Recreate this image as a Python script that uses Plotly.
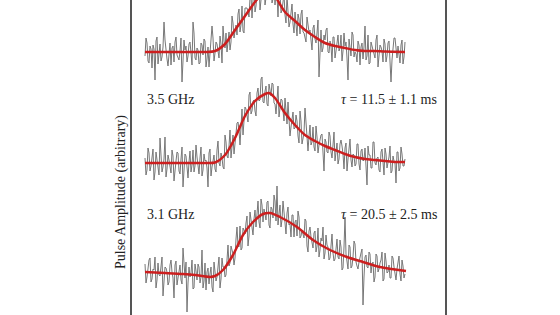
import plotly.graph_objects as go

# ---- data (amplitudes in arbitrary units, relative to each trace's baseline) ----
labels_freq = ["3.5 GHz", "3.1 GHz"]
labels_tau = ["<i>τ</i> = 11.5 ± 1.1 ms", "<i>τ</i> = 20.5 ± 2.5 ms"]

# samples at even time steps
top_even = [-4, 9, -11, 3, 7, -28, 15, -2, -9, 5, 12, -7, 1, -13, 6, 10, -3, -8, 14, -5,
            2, -10, 8, -1, 30, -6, 4, -12, 9, -3, 11, -7, -15, 5, 14, -1, 8, -6, 8, 26,
            4, 0, 20, 10, 29, 24, 17, 43, 27, 21, 44, 44, 35, 57, 46, 40, 58, 71, 52, 62,
            47, 71, 60, 72, 53, 47, 57, 63, 39, 50, 37, 56, 25, 37, 28, 40, 16, 33, 38, 20,
            15, 35, 20, 8, 24, 13, 19, -25, 22, 4, 12, 24, -1, 6, 15, -6, 12, 1, 17, 1,
            6, -6, 13, -4, 17, 0, -10, 7, 5, -7, 26, -4, -12, 10, 2, -6, 17, -3, 5, -10,
            8, -4, 11, -30, 3, 14, -6, -2, 7, -12, 10]
# samples at odd time steps
top_odd = [14, -9, 6, -16, 3, 11, -12, 8, -5, 30, -2, -14, 9, 4, -10, 15, -7, 1, -30, 12,
           6, -4, 10, -13, 19, -8, 2, -11, 7, 13, -15, 5, -3, 26, -9, 10, -3, 16, -11, 11,
           19, 10, 2, 36, 14, 27, 38, 20, 46, 19, 44, 40, 54, 34, 69, 46, 62, 42, 60, 73,
           54, 77, 58, 49, 67, 60, 35, 61, 42, 58, 29, 44, 30, 48, 19, 31, 38, 18, 42, 19,
           10, 28, 22, 2, 27, 9, 32, 10, 0, 17, 22, 0, 11, -10, 15, 1, 17, 4, -9, 19,
           10, -28, 5, 20, -5, -2, 11, -13, 9, 5, -8, 17, -11, 6, -5, 12, -15, 7, 1, 13,
           -10, 9, -4, -8, 14, -2, 6, -11, 12, -5]
top_fit_t = [0, 20, 40, 60, 70, 80, 90, 100, 110, 120, 125, 130, 140, 150, 160, 170, 180,
             190, 200, 210, 220, 230, 240, 260]
top_fit = [0, 0, 0, 0, 1, 8, 22, 36, 50, 61, 62, 56, 40, 31, 22, 15, 9, 6, 4, 2, 1, 1, 0.5, 0]

mid_even = [5, -7, 10, -3, 14, -9, 2, -12, 8, -4, 26, -6, 3, -10, 7, -2, 11, -8, 4, -24,
            9, -5, 1, -9, 13, -3, 6, -11, 16, -7, 2, -5, 10, -13, 4, -6, 13, 0, 10, -4,
            28, 7, 17, 5, 28, 19, 40, 33, 44, 28, 56, 47, 68, 49, 62, 52, 70, 62, 84, 61,
            72, 59, 79, 67, 79, 59, 66, 46, 64, 48, 65, 39, 46, 36, 51, 35, 42, 20, 42, 26,
            55, 19, 27, 18, 36, 12, 26, 18, 28, 6, 24, 11, 31, 11, 18, 2, 20, 4, 23, 9,
            15, -8, 18, 3, 9, -3, 19, -1, 12, 2, 15, -22, 8, -5, 21, 0, 5, -7, 11, -3,
            15, -5, 6, -10, 7, 0, 11, -8, 16, -3, 4]
mid_odd = [-12, 15, -8, 6, -17, 11, -3, 25, -9, 4, -14, 8, -6, 13, -18, 2, 10, -11, 16, -5,
           7, -15, 12, -2, -9, 18, -7, 5, -13, 9, 3, -24, 14, -4, 8, -9, 22, -3, 5, -6,
           21, 5, 33, 16, 9, 33, 41, 18, 54, 44, 54, 41, 71, 52, 63, 47, 75, 63, 86, 60,
           77, 57, 74, 80, 60, 49, 77, 56, 63, 42, 52, 61, 27, 48, 34, 48, 27, 52, 19, 30,
           37, 12, 38, 21, 16, 37, 10, 25, 29, -8, 21, 10, 27, 5, 31, 11, -1, 19, 17, -6,
           20, 4, 24, -4, 8, -1, 19, -7, 14, 3, -12, 17, 8, -5, 21, -2, 6, -9, 14, -12,
           9, -1, 17, -8, 2, -20, 11, -5, 9, -3]
mid_fit_t = [0, 20, 40, 60, 70, 80, 90, 100, 110, 120, 124, 130, 140, 150, 160, 170, 180,
             190, 200, 210, 220, 230, 240, 250, 260]
mid_fit = [0, 0, 0, 0, 0.5, 8, 25, 47, 62, 69, 70, 65, 50, 38, 28, 22, 17, 13, 9, 6, 4, 3, 2,
           1, 1]

bot_even = [8, -5, 12, -10, 3, 15, -8, -3, 9, -24, 5, 0, -10, 12, -6, 7, -13, 3, -8, 24,
            -6, -40, 5, -1, -17, 8, -8, 5, -5, -16, 9, 0, -12, 5, -20, 3, -5, 15, -7, 5,
            -5, 17, 6, 26, 18, 14, 45, 25, 22, 44, 38, 56, 36, 53, 37, 62, 57, 50, 73, 50,
            58, 70, 47, 65, 54, 71, 86, 58, 45, 71, 48, 59, 47, 35, 57, 50, 36, 55, 36, 38,
            53, 26, 41, 35, 24, 41, 26, 15, 34, 45, 19, 27, 12, 33, 19, 13, 33, 13, 25, 4,
            55, 12, 27, 4, 15, 28, 6, 10, 19, -33, 15, 5, 20, -1, 10, -5, 16, 3, 12, -9,
            19, -1, 7, -6, 14, -4, 3, 16, -9, 6, -2]
bot_odd = [-11, 7, 14, -7, 2, -16, 9, -4, 15, -10, 4, -13, 7, 0, -26, 11, -6, 7, -12, 4,
           10, -11, -5, 12, -16, 1, 8, -11, 22, -9, -18, 4, -2, -15, 10, -9, 6, -16, 14, 5,
           -3, 27, 9, 22, 7, 33, 26, 46, 24, 42, 49, 26, 60, 44, 53, 45, 71, 44, 67, 63,
           52, 71, 44, 63, 77, 51, 47, 67, 52, 61, 38, 65, 48, 57, 35, 52, 61, 34, 42, 34,
           51, 20, 45, 30, 39, 20, 44, 22, 31, 13, 37, 25, 14, 38, 11, 25, 15, 32, 2, 25,
           18, 3, 25, 6, 31, 10, 3, 17, 23, -5, 17, 4, 18, 8, -10, 18, 0, 9, 20, -7,
           11, 0, -6, 16, 5, -8, 10, -2, 12, -6]
bot_fit_t = [0, 20, 38, 50, 65, 70, 78, 88, 98, 108, 118, 125, 135, 152, 168, 185, 202, 218,
             235, 261]
bot_fit = [0, -1, -2, -3, -5, -4, 2, 17, 37, 50, 58, 59, 55, 45, 32, 22, 15, 10, 5, 1]

# baselines of the stacked traces (arbitrary vertical offsets)
offsets = [263, 152, 43]

GRAY = "#777777"
RED = "#cc1f1f"
FONT = "Liberation Serif, DejaVu Serif, serif"


def merge(even, odd):
    out = []
    for e, o in zip(even, odd):
        out += [e, o]
    out += even[len(odd):]
    return out


fig = go.Figure()
for ev, od, ft, fv, off in [(top_even, top_odd, top_fit_t, top_fit, offsets[0]),
                            (mid_even, mid_odd, mid_fit_t, mid_fit, offsets[1]),
                            (bot_even, bot_odd, bot_fit_t, bot_fit, offsets[2])]:
    raw = merge(ev, od)
    n = len(raw)
    t = [260 * i / (n - 1) for i in range(n)]
    fig.add_trace(go.Scatter(x=t, y=[v + off for v in raw], mode="lines",
                             line=dict(color=GRAY, width=1), hoverinfo="skip"))
    fig.add_trace(go.Scatter(x=ft, y=[v + off for v in fv], mode="lines",
                             line=dict(color=RED, width=2.5, shape="spline", smoothing=0.8),
                             hoverinfo="skip"))

ann = []
for lab, off, dy in [(labels_freq[0], offsets[1], 64), (labels_freq[1], offsets[2], 58)]:
    ann.append(dict(x=0, y=off + dy, xref="x", yref="y", text=lab, showarrow=False,
                    xanchor="left", yanchor="middle", font=dict(size=14, color="#222", family=FONT)))
for lab, off, dy in [(labels_tau[0], offsets[1], 64), (labels_tau[1], offsets[2], 58)]:
    ann.append(dict(x=294, y=off + dy, xref="x", yref="y", text=lab, showarrow=False,
                    xanchor="right", yanchor="middle", font=dict(size=14, color="#222", family=FONT)))
ann.append(dict(x=(121 - 132) / 313, y=(315 - 192) / 315, xref="paper", yref="paper",
                text="Pulse Amplitude (arbitrary)", textangle=-90, showarrow=False,
                xanchor="center", yanchor="middle",
                font=dict(size=14, color="#222", family=FONT)))

fig.update_layout(
    width=560, height=315,
    margin=dict(l=132, r=115, t=0, b=0),
    paper_bgcolor="white", plot_bgcolor="white",
    showlegend=False,
    annotations=ann,
    xaxis=dict(range=[-13, 300], showgrid=False, zeroline=False, showticklabels=False,
               ticks="", showline=False),
    yaxis=dict(range=[0, 315], showgrid=False, zeroline=False, showticklabels=False,
               ticks="", showline=True, mirror=True, linecolor="#555", linewidth=1.5),
)

fig.write_html("out.html")
